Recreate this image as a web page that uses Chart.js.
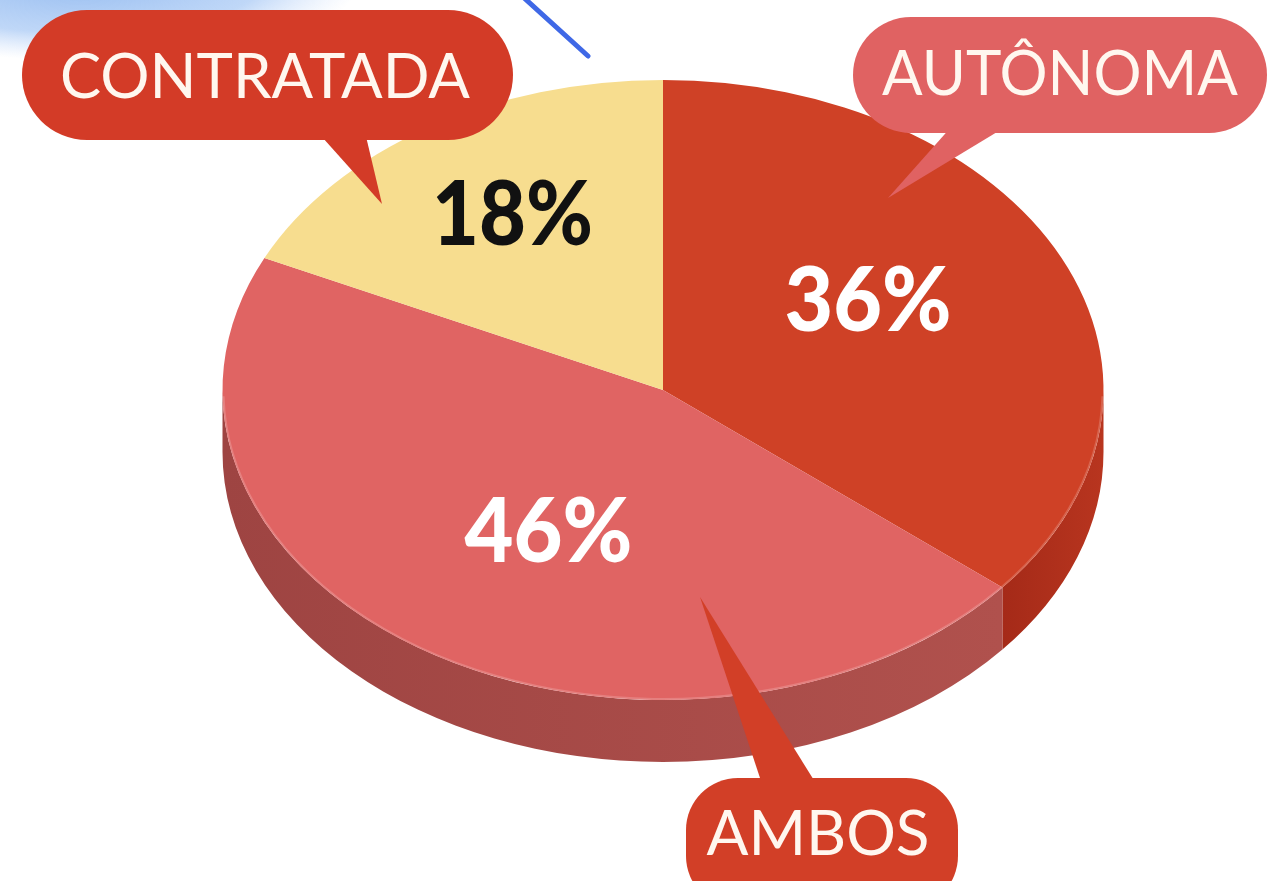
<!DOCTYPE html>
<html>
<head>
<meta charset="utf-8">
<script src="https://cdn.jsdelivr.net/npm/chart.js@4.4.1/dist/chart.umd.min.js"></script>
<style>
  html, body { margin: 0; padding: 0; background: #ffffff; overflow: hidden; }
  #wrap { width: 1286px; height: 881px; }
</style>
</head>
<body>
<div id="wrap"><canvas id="pie" width="1286" height="881"></canvas></div>
<script>
// data
const categories = ["AUTÔNOMA", "AMBOS", "CONTRATADA"];
const values = [36, 46, 18];
const valueLabels = ["36%", "46%", "18%"];

// colours
const topColors = ["#cf4126", "#e06463", "#f7dd8f"];
const sideColors = [
  ["#a52a18", "#b8351f"],
  ["#9e4442", "#b0514d"],
  ["#d6b86a", "#d6b86a"],
];
const labelColors = ["#ffffff", "#ffffff", "#111111"];

// where each percent sits inside its slice (fraction of radius, angle nudge in deg, text width)
const labelSpots = [
  { r: 0.55, da: -7, w: 167 },
  { r: 0.52, da: -2.4, w: 168 },
  { r: 0.665, da: 1.5, w: 161 },
];

// speech bubbles, one per category, in category order
const bubbles = [
  { x: 853, y: 17, w: 414, h: 116, r: 58, color: "#e06262",
    tail: [[952, 126], [1007, 126], [888, 198]], tx: 1060, base: 95, tw: 356 },
  { x: 686, y: 778, w: 272, h: 130, r: 52, color: "#d23f27",
    tail: [[764, 790], [820, 790], [700, 597]], tx: 818, base: 855, tw: 223 },
  { x: 22, y: 10, w: 491, h: 130, r: 65, color: "#d33b27",
    tail: [[314, 128], [364, 128], [382, 204]], tx: 265, base: 98, tw: 410 },
];

// the tilted disc
const CY = 390;     // screen centre of the top face
const RY = 310;     // vertical radius of the top face
const DEPTH = 62;   // thickness of the disc

function fitText(ctx, text, cx, baseline, width, font, color) {
  ctx.save();
  ctx.font = font;
  ctx.fillStyle = color;
  ctx.textAlign = "center";
  ctx.textBaseline = "alphabetic";
  let w = ctx.measureText(text).width;
  ctx.translate(cx, baseline);
  ctx.scale(width / w, 1);
  ctx.fillText(text, 0, 0);
  ctx.restore();
}

const pie3d = {
  id: "pie3d",
  beforeDraw(chart) {
    const ctx = chart.ctx;
    // pale blue blob top left and the blue stroke
    ctx.save();
    ctx.translate(80, -18);
    ctx.scale(1, 0.28);
    let g = ctx.createRadialGradient(0, 0, 0, 0, 0, 280);
    g.addColorStop(0, "rgba(150,188,240,1)");
    g.addColorStop(0.65, "rgba(170,202,245,0.75)");
    g.addColorStop(1, "rgba(200,220,250,0)");
    ctx.fillStyle = g;
    ctx.beginPath();
    ctx.arc(0, 0, 280, 0, Math.PI * 2);
    ctx.fill();
    ctx.restore();

    ctx.save();
    ctx.strokeStyle = "#3f68e6";
    ctx.lineWidth = 5;
    ctx.lineCap = "round";
    ctx.beginPath();
    ctx.moveTo(522, -4);
    ctx.lineTo(588, 56);
    ctx.stroke();
    ctx.restore();
  },
  beforeDatasetsDraw(chart) {
    const ctx = chart.ctx;
    const arcs = chart.getDatasetMeta(0).data;
    const cx = arcs[0].x;
    const R = arcs[0].outerRadius;

    // side walls of the front half
    arcs.forEach((arc, i) => {
      const a1 = Math.max(arc.startAngle, 0);
      const a2 = Math.min(arc.endAngle, Math.PI);
      if (a2 <= a1) return;
      const g = ctx.createLinearGradient(cx + R * Math.cos(a2), 0, cx + R * Math.cos(a1), 0);
      g.addColorStop(0, sideColors[i][0]);
      g.addColorStop(1, sideColors[i][1]);
      ctx.fillStyle = g;
      ctx.beginPath();
      ctx.ellipse(cx, CY, R, RY, 0, a1, a2);
      ctx.ellipse(cx, CY + DEPTH, R, RY, 0, a2, a1, true);
      ctx.closePath();
      ctx.fill();
    });

    // squash the library's pie into the tilted top face
    ctx.save();
    ctx.translate(0, CY);
    ctx.scale(1, RY / R);
    ctx.translate(0, -arcs[0].y);
  },
  afterDatasetsDraw(chart) {
    const ctx = chart.ctx;
    ctx.restore();
    const arcs = chart.getDatasetMeta(0).data;
    const cx = arcs[0].x;
    const R = arcs[0].outerRadius;

    // light rim on the front edge
    ctx.save();
    ctx.strokeStyle = "rgba(255,255,255,0.18)";
    ctx.lineWidth = 2;
    ctx.beginPath();
    ctx.ellipse(cx, CY, R - 1, RY - 1, 0, 0.02, Math.PI - 0.02);
    ctx.stroke();
    ctx.restore();

    // percentages
    arcs.forEach((arc, i) => {
      const s = labelSpots[i];
      const mid = (arc.startAngle + arc.endAngle) / 2 + s.da * Math.PI / 180;
      const x = cx + R * s.r * Math.cos(mid);
      const y = CY + RY * s.r * Math.sin(mid);
      fitText(ctx, valueLabels[i], x, y + 32, s.w, "900 89px Lato", labelColors[i]);
    });
  },
  afterDraw(chart) {
    const ctx = chart.ctx;
    bubbles.forEach((b, i) => {
      ctx.save();
      ctx.fillStyle = b.color;
      ctx.beginPath();
      ctx.moveTo(b.tail[0][0], b.tail[0][1]);
      ctx.lineTo(b.tail[2][0], b.tail[2][1]);
      ctx.lineTo(b.tail[1][0], b.tail[1][1]);
      ctx.closePath();
      ctx.fill();
      ctx.beginPath();
      ctx.roundRect(b.x, b.y, b.w, b.h, b.r);
      ctx.fill();
      ctx.restore();
      fitText(ctx, categories[i], b.tx, b.base, b.tw, "400 62px Lato", "#fff7ef");
    });
  },
};

const ctx = document.getElementById("pie").getContext("2d");
const myChart = new Chart(ctx, {
  type: "pie",
  data: {
    labels: categories,
    datasets: [
      {
        data: values,
        backgroundColor: topColors,
        borderWidth: 0,
      },
    ],
  },
  options: {
    responsive: false,
    animation: false,
    events: [],
    layout: { padding: { left: 221, right: 181, top: 0, bottom: 0 } },
    plugins: {
      legend: { display: false },
      tooltip: { enabled: false },
    },
  },
  plugins: [pie3d],
});
</script>
</body>
</html>
